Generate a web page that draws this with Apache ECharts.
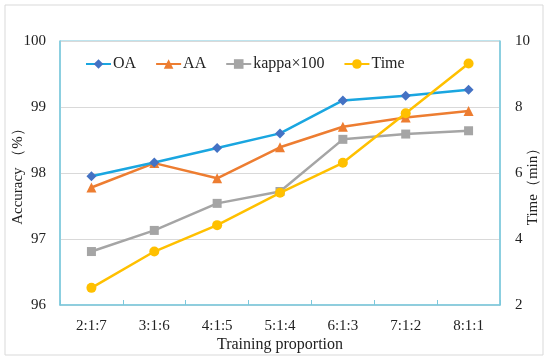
<!DOCTYPE html>
<html><head><meta charset="utf-8">
<script src="https://cdn.jsdelivr.net/npm/echarts@6/dist/echarts.min.js"></script>
<style>html,body{margin:0;padding:0;background:#fff}#c{width:550px;height:363px}</style>
</head><body><div id="c"></div>
<script>
const categories = ['2:1:7','3:1:6','4:1:5','5:1:4','6:1:3','7:1:2','8:1:1'];
const oa = [97.95, 98.16, 98.38, 98.60, 99.10, 99.17, 99.26];
const aa = [97.78, 98.15, 97.92, 98.39, 98.70, 98.84, 98.94];
const kappa = [96.81, 97.13, 97.54, 97.72, 98.51, 98.59, 98.64];
const time = [2.52, 3.62, 4.42, 5.40, 6.31, 7.81, 9.32];
const leftTicks = {min: 96, max: 100, interval: 1};
const rightTicks = {min: 2, max: 10, interval: 2};

const font = 'Liberation Serif';
const frame = '#7cc8dc';
const chart = echarts.init(document.getElementById('c'));
chart.setOption({
  animation: false,
  textStyle: {fontFamily: font},
  graphic: [{type: 'rect', shape: {x: 5, y: 5, width: 538, height: 350}, style: {fill: 'none', stroke: '#d9d9d9', lineWidth: 1}, z: -1}],
  grid: {left: 60, right: 50, top: 41, bottom: 58, show: true, borderColor: frame, borderWidth: 1, containLabel: false, outerBoundsMode: 'none'},
  legend: {
    top: 51, left: 80, itemGap: 19, itemWidth: 25, itemHeight: 12,
    textStyle: {fontFamily: font, fontSize: 16, color: '#222', padding: [0, 0, 0, -3]},
    data: ['OA', 'AA', 'kappa×100', 'Time']
  },
  xAxis: {
    type: 'category', data: categories, boundaryGap: true,
    name: 'Training proportion', nameLocation: 'middle', nameGap: 32, nameMoveOverlap: false,
    nameTextStyle: {fontFamily: font, fontSize: 16, color: '#222'},
    axisLine: {lineStyle: {color: frame, width: 1.5}},
    axisTick: {show: true, inside: true, length: 5, lineStyle: {color: frame}},
    axisLabel: {fontFamily: font, fontSize: 15, color: '#222', margin: 14}
  },
  yAxis: [{
    type: 'value', min: leftTicks.min, max: leftTicks.max, interval: leftTicks.interval,
    name: 'Accuracy （%）', nameLocation: 'middle', nameGap: 34, nameMoveOverlap: false,
    nameTextStyle: {fontFamily: font, fontSize: 15, color: '#222'},
    axisLine: {show: true, lineStyle: {color: frame, width: 1.5}},
    axisTick: {show: false},
    splitLine: {lineStyle: {color: '#d9d9d9'}},
    axisLabel: {fontFamily: font, fontSize: 15, color: '#222', margin: 14}
  }, {
    type: 'value', min: rightTicks.min, max: rightTicks.max, interval: rightTicks.interval,
    name: 'Time（min）', nameLocation: 'middle', nameGap: 26, nameRotate: 90, nameMoveOverlap: false,
    nameTextStyle: {fontFamily: font, fontSize: 15, color: '#222', padding: [0, 20, 0, 0]},
    axisLine: {show: true, lineStyle: {color: frame, width: 1.5}},
    axisTick: {show: false},
    splitLine: {show: false},
    axisLabel: {fontFamily: font, fontSize: 15, color: '#222', margin: 15}
  }],
  series: [
    {name: 'OA', type: 'line', data: oa, yAxisIndex: 0, symbol: 'diamond', symbolSize: 10,
     lineStyle: {color: '#1aa6e0', width: 2.5}, itemStyle: {color: '#4472c4'}, z: 4},
    {name: 'AA', type: 'line', data: aa, yAxisIndex: 0, symbol: 'triangle', symbolSize: 10,
     lineStyle: {color: '#ed7d31', width: 2.5}, itemStyle: {color: '#ed7d31'}, z: 3},
    {name: 'kappa×100', type: 'line', data: kappa, yAxisIndex: 0, symbol: 'rect', symbolSize: 9,
     lineStyle: {color: '#a5a5a5', width: 2.5}, itemStyle: {color: '#a5a5a5'}, z: 2},
    {name: 'Time', type: 'line', data: time, yAxisIndex: 1, symbol: 'circle', symbolSize: 10,
     lineStyle: {color: '#ffc000', width: 2.5}, itemStyle: {color: '#ffc000'}, z: 5}
  ]
});
</script></body></html>
